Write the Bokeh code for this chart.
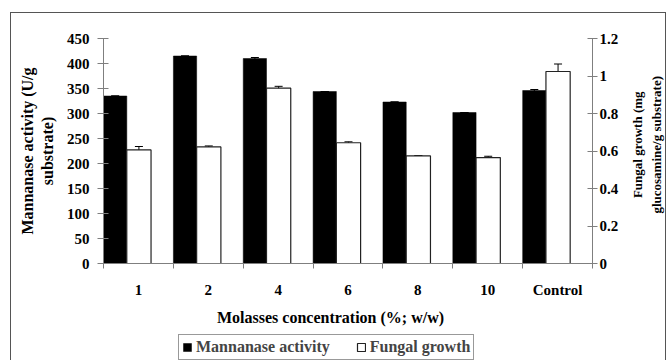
import math
import numpy as np
from bokeh.plotting import figure
from bokeh.layouts import column, row
from bokeh.models import (ColumnDataSource, Range1d, LinearAxis, FixedTicker,
                          Whisker, Legend, LegendItem, TeeHead, Label)
from bokeh.embed import file_html
from bokeh.resources import INLINE

categories = ["1", "2", "4", "6", "8", "10", "Control"]
mannanase = [335, 415, 410, 344, 323, 302, 346]
mannanase_err = [0, 0, 2, 0, 0, 0, 2]
fungal = [0.606, 0.622, 0.935, 0.644, 0.574, 0.565, 1.024]
fungal_err = [0.018, 0.005, 0.010, 0.005, 0.0, 0.007, 0.040]
left_ticks = [0, 50, 100, 150, 200, 250, 300, 350, 400, 450]
right_ticks = [0, 0.2, 0.4, 0.6, 0.8, 1.0, 1.2]
right_tick_labels = ["0", "0.2", "0.4", "0.6", "0.8", "1", "1.2"]
x_title = "Molasses concentration (%; w/w)"
left_title = "Mannanase activity (U/g\nsubstrate)"
right_title_lines = ["Fungal growth (mg", "glucosamine/g substrate)"]
series_names = ["Mannanase activity", "Fungal growth"]

FONT = "Liberation Serif"
AX = "#7f7f7f"

idx = np.arange(len(categories))
src = ColumnDataSource(dict(
    xm=idx + 0.167, xf=idx + 0.507,
    m=mannanase, f=fungal,
    m_up=np.array(mannanase) + np.array(mannanase_err),
    m_lo=np.array(mannanase) - np.array(mannanase_err),
    f_up=np.array(fungal) + np.array(fungal_err),
    f_lo=np.array(fungal) - np.array(fungal_err),
))

# ---------------- main chart ----------------
p = figure(frame_width=489, frame_height=225,
           min_border_left=92, min_border_top=25, min_border_right=34, min_border_bottom=40,
           x_range=Range1d(0, len(categories)), y_range=Range1d(0, 450),
           output_backend="svg", toolbar_location=None)
p.extra_y_ranges = {"right": Range1d(0, 1.2)}
p.outline_line_color = None
p.xgrid.visible = False
p.ygrid.visible = False

rm = p.vbar(x="xm", top="m", width=0.333, source=src, fill_color="black", line_color="black", line_width=0.5)
rf = p.vbar(x="xf", top="f", width=0.347, source=src, fill_color="white", line_color="#222222",
            line_width=1.2, y_range_name="right")

p.add_layout(Whisker(base="xm", upper="m_up", lower="m_lo", source=src, line_color="black",
                     upper_head=TeeHead(size=8, line_color="black"),
                     lower_head=TeeHead(size=8, line_color="black")))
p.add_layout(Whisker(base="xf", upper="f_up", lower="f_lo", source=src, line_color="black",
                     y_range_name="right",
                     upper_head=TeeHead(size=8, line_color="black"),
                     lower_head=TeeHead(size=8, line_color="black")))

def style_axis(ax, label_size="16px"):
    ax.axis_line_color = AX
    ax.major_tick_line_color = AX
    ax.minor_tick_line_color = None
    ax.major_label_text_font = FONT
    ax.major_label_text_font_style = "bold"
    ax.major_label_text_font_size = "15px"
    ax.major_label_text_color = "black"
    ax.axis_label_text_font = FONT
    ax.axis_label_text_font_style = "bold"
    ax.axis_label_text_font_size = label_size
    ax.axis_label_text_color = "black"

xa = p.xaxis[0]
style_axis(xa)
xa.ticker = FixedTicker(ticks=list(idx + 0.5), minor_ticks=list(range(len(categories) + 1)))
xa.major_label_overrides = {float(i + 0.5): c for i, c in enumerate(categories)}
xa.major_tick_line_color = None
xa.minor_tick_line_color = AX
xa.minor_tick_in = 0
xa.minor_tick_out = 5
xa.major_label_standoff = 12

ya = p.yaxis[0]
style_axis(ya)
ya.ticker = FixedTicker(ticks=left_ticks)
ya.major_tick_in = 5
ya.major_tick_out = 6
ya.major_label_standoff = 8
ya.axis_label = left_title
ya.axis_label_standoff = 8

ra = LinearAxis(y_range_name="right")
style_axis(ra)
ra.ticker = FixedTicker(ticks=right_ticks)
ra.major_label_overrides = {float(t): l for t, l in zip(right_ticks, right_tick_labels)}
ra.major_tick_in = 5
ra.major_tick_out = 5
ra.major_label_standoff = 2
p.add_layout(ra, "right")

# ---------------- right title strip ----------------
RH = 25 + 225 + 40
rfig = figure(width=39, height=RH, min_border=0,
              x_range=Range1d(0, 39), y_range=Range1d(RH, 0),
              x_axis_type=None, y_axis_type=None,
              output_backend="svg", toolbar_location=None)
rfig.outline_line_color = None
for xpos, line in zip([11, 30], right_title_lines):
    rfig.add_layout(Label(x=xpos, y=137, text=line, angle=math.pi / 2,
                          text_align="center", text_baseline="middle",
                          text_font=FONT, text_font_style="bold",
                          text_font_size="13px", text_color="black"))

# ---------------- bottom strip: x title + legend ----------------
BH = 57
BW = 92 + 489 + 34 + 39
lf = figure(width=BW, height=BH, min_border=0,
            x_range=Range1d(0, BW), y_range=Range1d(BH, 0),
            x_axis_type=None, y_axis_type=None,
            output_backend="svg", toolbar_location=None)
lf.outline_line_color = None
lf.add_layout(Label(x=319, y=14, text=x_title, text_align="center", text_baseline="middle",
                    text_font=FONT, text_font_style="bold", text_font_size="16px",
                    text_color="black"))
# hidden copies of the two series, used only as legend swatches
dm = lf.vbar(x="xm", top="m", width=0.333, source=src, fill_color="black",
             line_color="black", line_width=0.5, visible=False)
df = lf.vbar(x="xf", top="f", width=0.347, source=src, fill_color="white",
             line_color="#222222", line_width=1.2, visible=False)
legend = Legend(items=[LegendItem(label=series_names[0], renderers=[dm]),
                       LegendItem(label=series_names[1], renderers=[df])],
                orientation="horizontal", location=(167, 0))
legend.label_text_font = FONT
legend.label_text_font_style = "bold"
legend.label_text_font_size = "16px"
legend.label_height = 16
legend.glyph_width = 10
legend.glyph_height = 10
legend.label_standoff = 4
legend.spacing = 26
legend.padding = 3
legend.margin = 0
legend.inactive_fill_alpha = 0
legend.border_line_color = "#333333"
legend.border_line_width = 1
legend.background_fill_color = "white"
lf.add_layout(legend, "center")

layout = column(row(p, rfig), lf)
layout.margin = (12, 0, 0, 10)
layout.styles = {"border-top": "1px solid #555", "border-left": "1px solid #555",
                 "border-right": "1px solid #555"}

open("out.html", "w").write(file_html(layout, INLINE))
